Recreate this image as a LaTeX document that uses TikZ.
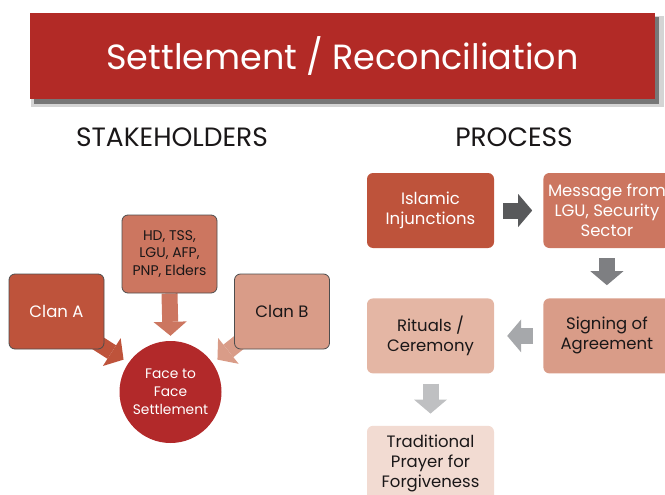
\documentclass[tikz,border=0pt]{standalone}
\usepackage{fontspec}
\setmainfont{Poppins}
\usetikzlibrary{positioning,arrows.meta}

\definecolor{bannerred}{HTML}{B22A26}
\definecolor{shadelight}{HTML}{D4D4D4}
\definecolor{shadedark}{HTML}{777777}
\definecolor{rustA}{HTML}{BE533B}
\definecolor{rustB}{HTML}{CC7660}
\definecolor{rustC}{HTML}{D99C88}
\definecolor{rustD}{HTML}{E4B6A4}
\definecolor{rustE}{HTML}{F2DBD2}
\definecolor{facered}{HTML}{B2292A}
\definecolor{boxline}{HTML}{4D4D4D}
\definecolor{arrA}{HTML}{58595B}
\definecolor{arrB}{HTML}{7E7F82}
\definecolor{arrC}{HTML}{A6A8AB}
\definecolor{arrD}{HTML}{BFC0C2}
\definecolor{ink}{HTML}{1A1718}

\pgfdeclarelayer{bg}
\pgfsetlayers{bg,main}

\tikzset{
  banner/.style={rectangle, fill=bannerred, text=white, minimum width=625pt, minimum height=86pt, font=\fontsize{35}{42}\selectfont},
  head/.style={text=ink, font=\fontsize{26.5}{30}\selectfont},
  box/.style={rectangle, rounded corners=6pt, minimum width=95pt, minimum height=75pt, align=center, inner sep=2pt, text=ink, font=\fontsize{16.5}{20}\selectfont},
  lbox/.style={box, draw=boxline, line width=0.8pt},
  pbox/.style={box, minimum width=127pt},
  blk/.style={line width=16pt, -{Triangle[length=14pt, width=33pt, line width=0pt]}},
}

\begin{document}
\begin{tikzpicture}[x=1pt, y=-1pt]
  \useasboundingbox (0,0) rectangle (665,495);

  % title banner with its shadow
  \fill[shadelight] (31,16) rectangle (664,107);
  \fill[shadedark] (34,17) rectangle (659,104);
  \node[banner] (title) at (342.5,56) {Settlement / Reconciliation};

  % column heads
  \node[head] (stake) at (172,137) {STAKEHOLDERS};
  \node[head] (proc) at (514,137) {PROCESS};

  % stakeholders
  \node[lbox, fill=rustA, text=white] (clanA) at (56.5,311.5) {Clan A};
  \node[lbox, fill=rustB, minimum height=78pt, font=\fontsize{14}{17.5}\selectfont] (mid) at (169.5,254) {HD, TSS,\\LGU, AFP,\\PNP, Elders};
  \node[lbox, fill=rustC] (clanB) at (282,311.5) {Clan B};
  \node[circle, fill=facered, text=white, minimum size=102pt, inner sep=0pt, align=center, font=\fontsize{13.8}{18}\selectfont] (face) at (170.5,392) {Face to\\Face\\Settlement};

  \begin{pgfonlayer}{bg}
    \draw[blk, draw=rustA] ([xshift=-14pt, yshift=11pt]clanA.south east) -- ([shift={(-5pt,3pt)}]face.145);
    \draw[blk, draw=rustB] (mid.south) -- ([yshift=5pt]face.north);
    \draw[blk, draw=rustC] ([xshift=10pt, yshift=11pt]clanB.south west) -- ([shift={(5pt,3pt)}]face.35);
  \end{pgfonlayer}

  % process
  \node[pbox, fill=rustA, text=white] (isl) at (430.5,210.5) {Islamic\\Injunctions};
  \node[pbox, fill=rustB, text=white, right=49pt of isl] (msg) {Message from\\LGU, Security\\Sector};
  \node[pbox, fill=rustC, below=50pt of msg] (sign) {Signing of\\Agreement};
  \node[pbox, fill=rustD, left=49pt of sign] (rit) {Rituals /\\Ceremony};
  \node[pbox, fill=rustE, below=52pt of rit] (trad) {Traditional\\Prayer for\\Forgiveness};

  \draw[blk, draw=arrA] ([xshift=9pt]isl.east) -- ([xshift=-11pt]msg.west);
  \draw[blk, draw=arrB] ([yshift=-10pt]msg.south) -- ([yshift=13pt]sign.north);
  \draw[blk, draw=arrC] ([xshift=-10pt]sign.west) -- ([xshift=13pt]rit.east);
  \draw[blk, draw=arrD] ([yshift=-10pt]rit.south) -- ([yshift=12pt]trad.north);
\end{tikzpicture}
\end{document}
